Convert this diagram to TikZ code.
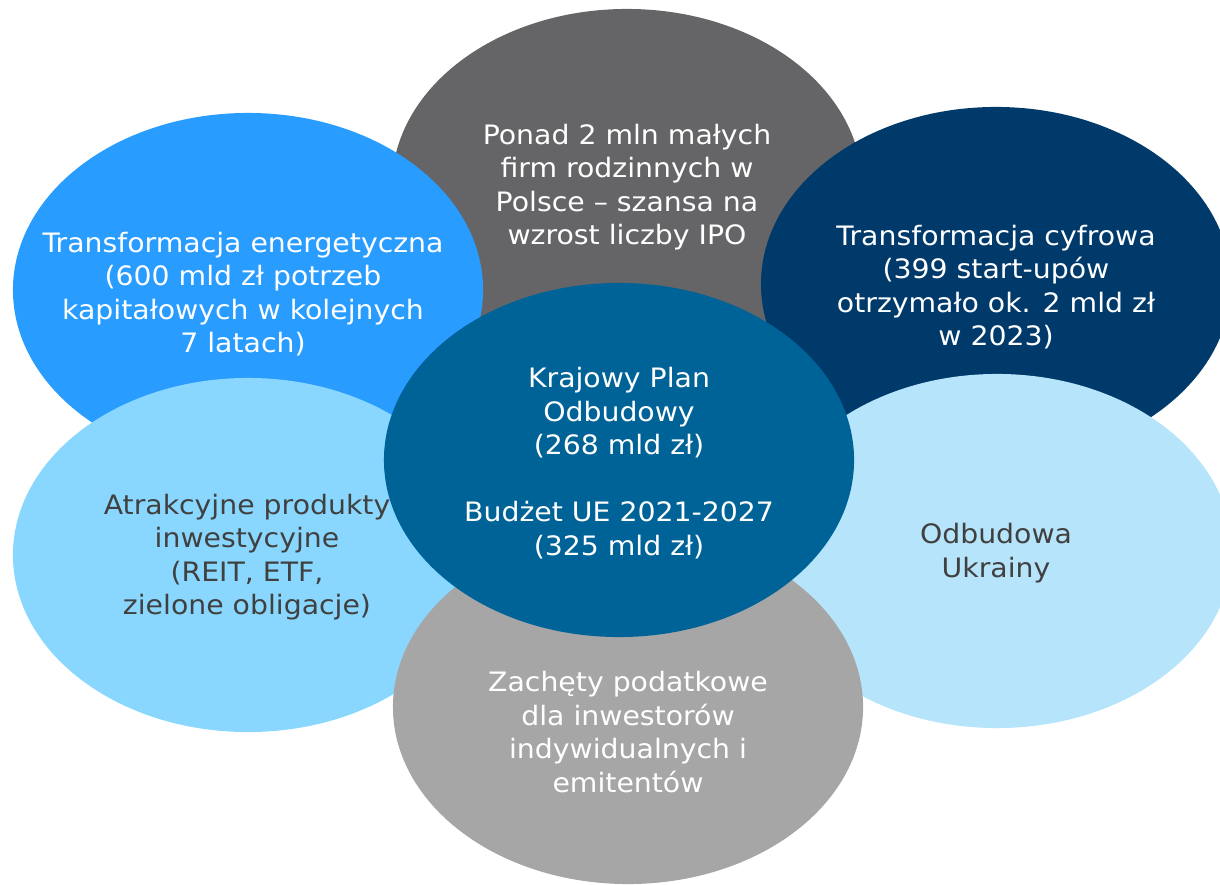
\documentclass[tikz,border=0pt]{standalone}
\usepackage{fontspec}
\setmainfont[FakeStretch=1.06]{DejaVu Sans}
\usetikzlibrary{shapes.geometric}
\definecolor{cgreyd}{HTML}{656567}
\definecolor{cblue}{HTML}{299CFF}
\definecolor{cnavy}{HTML}{003A6B}
\definecolor{cteal}{HTML}{006398}
\definecolor{clightl}{HTML}{89D7FE}
\definecolor{clightr}{HTML}{B6E5FB}
\definecolor{cgreyl}{HTML}{A6A6A6}
\definecolor{ctext}{HTML}{404040}
\tikzset{
  every picture/.style={x=0.025cm, y=-0.025cm},
  blob/.style={ellipse, fill=#1, draw=none, inner sep=0pt, minimum width=11.75cm, minimum height=8.85cm},
  blob/.default=cgreyl,
  lbl/.style={font=\fontsize{19}{23.8}\selectfont, text=white, align=center},
  lbldark/.style={lbl, text=ctext},
}

\begin{document}
\begin{tikzpicture}
  \useasboundingbox (0,0) rectangle (1220,885);
  \clip (0,0) rectangle (1220,885);
  % back row
  \node[blob=cgreyd] (ipo) at (627,186) {};
  \node[blob=cblue] (energy) at (248,290) {};
  \node[blob=cnavy] (digital) at (996,284) {};
  % middle row
  \node[blob=clightl] (products) at (248,555) {};
  \node[blob=clightr] (ukraine) at (997,551) {};
  \node[blob=cgreyl] (tax) at (628,707) {};
  % centre
  \node[blob=cteal] (kpo) at (619,460) {};
  % labels
  \node[lbl] (ipotxt) at (627,187) {Ponad 2 mln małych\\firm rodzinnych w\\Polsce – szansa na\\wzrost liczby IPO};
  \node[lbl] (energytxt) at (243,294) {Transformacja energetyczna\\(600 mld zł potrzeb\\kapitałowych w kolejnych\\7 latach)};
  \node[lbl] (digitaltxt) at (996,287) {Transformacja cyfrowa\\(399 start-upów\\otrzymało ok. 2 mld zł\\w 2023)};
  \node[lbldark] (productstxt) at (247,557) {Atrakcyjne produkty\\inwestycyjne\\(REIT, ETF,\\zielone obligacje)};
  \node[lbldark] (ukrainetxt) at (996,553) {Odbudowa\\Ukrainy};
  \node[lbl] (taxtxt) at (628,732) {Zachęty podatkowe\\dla inwestorów\\indywidualnych i\\emitentów};
  \node[lbl] (kpotxt) at (619,463) {Krajowy Plan\\Odbudowy\\(268 mld zł)\\[23.8pt]Budżet UE 2021-2027\\(325 mld zł)};
\end{tikzpicture}
\end{document}
